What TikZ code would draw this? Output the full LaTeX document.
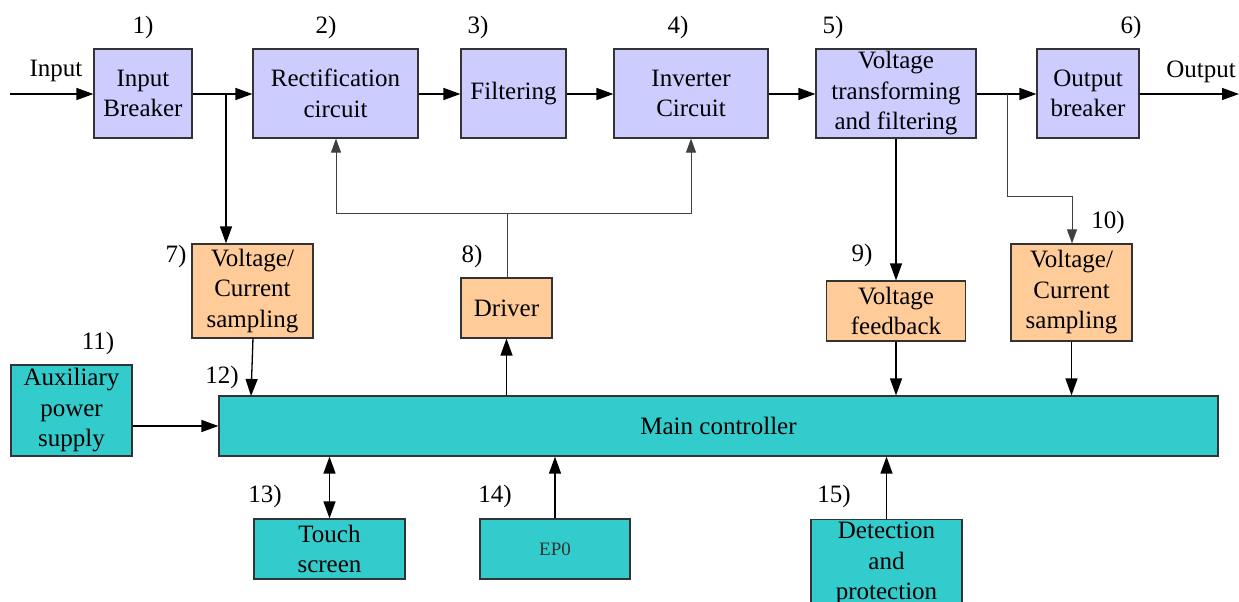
\documentclass[tikz,border=0pt]{standalone}
\usepackage{fontspec}
\setmainfont{Liberation Serif}
\usetikzlibrary{arrows.meta}
\definecolor{cblue}{HTML}{CCCCFF}
\definecolor{corange}{HTML}{FFCC99}
\definecolor{cteal}{HTML}{33CCCC}
\definecolor{cedge}{HTML}{333333}
\begin{document}
\begin{tikzpicture}[x=1pt,y=-1pt,
  blk/.style={draw=cedge, line width=1.2pt, rectangle, inner sep=0pt, align=center,
    font=\fontsize{25}{30.5}\selectfont, text=black},
  bluebox/.style={blk, fill=cblue},
  orbox/.style={blk, fill=corange},
  tealbox/.style={blk, fill=cteal},
  lbl/.style={font=\fontsize{25}{28}\selectfont, inner sep=0pt},
  arr/.style={line width=1.3pt, -{Triangle[length=17pt,width=12pt]}},
  tarr/.style={line width=0.9pt, draw=black!75, -{Triangle[length=14pt,width=10pt]}},
  tline/.style={line width=0.9pt, draw=black!75}
]
\useasboundingbox (0,0) rectangle (1239,602);
\clip (0,0) rectangle (1239,602);

% top row
\node[bluebox, minimum width=98, minimum height=89] (ib) at (143,93.5) {Input\\Breaker};
\node[bluebox, minimum width=165, minimum height=89] (rc) at (335.5,93.5) {Rectification\\circuit};
\node[bluebox, minimum width=105, minimum height=89] (fl) at (513.5,93.5) {Filtering};
\node[bluebox, minimum width=154, minimum height=89] (ic) at (691,93.5) {Inverter\\Circuit};
\node[bluebox, minimum width=160, minimum height=89] (vt) at (896,93.5) {Voltage\\transforming\\and filtering};
\node[bluebox, minimum width=102, minimum height=89] (ob) at (1088,93.5) {Output\\breaker};

% orange boxes
\node[orbox, minimum width=121, minimum height=94] (vs1) at (252.5,291) {Voltage/\\Current\\sampling};
\node[orbox, minimum width=91, minimum height=60] (dr) at (506.5,308) {Driver};
\node[orbox, minimum width=139, minimum height=60] (vf) at (896,311) {Voltage\\feedback};
\node[orbox, minimum width=121, minimum height=97] (vs2) at (1071.5,292.5) {Voltage/\\Current\\sampling};

% teal boxes
\node[tealbox, minimum width=121, minimum height=91] (aux) at (71.5,410.5) {Auxiliary\\power\\supply};
\node[tealbox, minimum width=999, minimum height=60] (mc) at (718.5,426) {Main controller};
\node[tealbox, minimum width=151, minimum height=60] (ts) at (329.5,549) {Touch\\screen};
\node[tealbox, minimum width=150, minimum height=60, font=\fontsize{19}{22}\selectfont, text=black!80] (epo) at (555,549) {EP0};
\node[tealbox, minimum width=151, minimum height=88, anchor=north] (dp) at (886.5,519) {Detection\\and\\protection};

% labels
\node[lbl] (l1) at (143,27) {1)};
\node[lbl] (l2) at (326,27) {2)};
\node[lbl] (l3) at (478,27) {3)};
\node[lbl] (l4) at (678,27) {4)};
\node[lbl] (l5) at (833,27) {5)};
\node[lbl] (l6) at (1131,27) {6)};
\node[lbl] (l7) at (176,256) {7)};
\node[lbl] (l8) at (472,256) {8)};
\node[lbl] (l9) at (862,255) {9)};
\node[lbl] (l10) at (1108,222) {10)};
\node[lbl] (l11) at (98,343) {11)};
\node[lbl] (l12) at (222,377) {12)};
\node[lbl] (l13) at (265,496) {13)};
\node[lbl] (l14) at (495,496) {14)};
\node[lbl] (l15) at (834,496) {15)};
\node[lbl] (tin) at (56,71) {Input};
\node[lbl] (tout) at (1201,72) {Output};

% main chain
\coordinate (inL) at (10,94);
\coordinate (outR) at (1239,94);
\draw[arr] (inL) -- (ib.west |- inL);
\draw[arr] (ib.east |- inL) -- (rc.west |- inL);
\draw[arr] (rc.east |- inL) -- (fl.west |- inL);
\draw[arr] (fl.east |- inL) -- (ic.west |- inL);
\draw[arr] (ic.east |- inL) -- (vt.west |- inL);
\draw[arr] (vt.east |- inL) -- (ob.west |- inL);
\draw[arr] (ob.east |- inL) -- (outR);

% branch to 7
\coordinate (b7) at (226,94);
\draw[arr] (b7) -- (b7 |- vs1.north);

% branch to 10
\coordinate (b10) at (1007,94);
\coordinate (b10a) at (1007,196);
\coordinate (b10b) at (1072,196);
\draw[tarr] (b10) -- (b10a) -- (b10b) -- (b10b |- vs2.north);

% driver feedback
\coordinate (fbM) at (507,213);
\coordinate (fbL) at (336,213);
\coordinate (fbR) at (691,213);
\draw[tline] (dr.north -| fbM) -- (fbM);
\draw[tarr] (fbM) -- (fbL) -- (fbL |- rc.south);
\draw[tarr] (fbM) -- (fbR) -- (fbR |- ic.south);

% 5 -> 9
\draw[arr] (vt.south) -- (vf.north);

% to main controller
\coordinate (m7) at (251,396);
\draw[arr] (253,338) -- (m7);
\draw[arr] (mc.north -| dr.south) -- (dr.south);
\draw[arr] (vf.south) -- (mc.north -| vf.south);
\draw[arr] (vs2.south) -- (mc.north -| vs2.south);
\draw[arr] (aux.east |- mc.west) -- (mc.west);
\draw[line width=1.3pt, {Triangle[length=17pt,width=12pt]}-{Triangle[length=17pt,width=12pt]}] (mc.south -| ts.north) -- (ts.north);
\draw[arr] (epo.north) -- (mc.south -| epo.north);
\draw[arr] (dp.north) -- (mc.south -| dp.north);
\end{tikzpicture}
\end{document}
